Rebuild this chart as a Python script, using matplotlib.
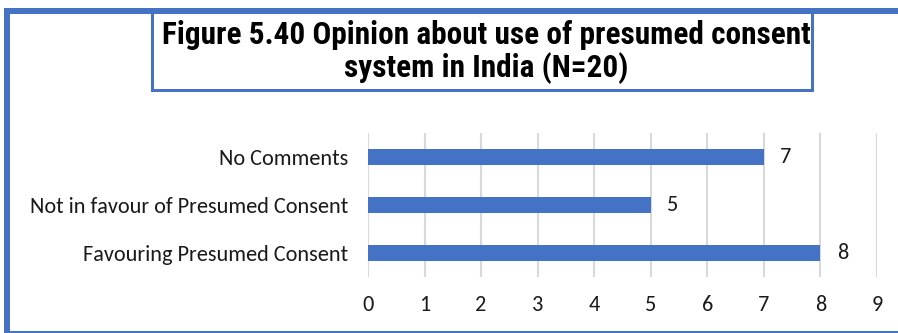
import matplotlib
matplotlib.use("Agg")
import matplotlib.pyplot as plt
from matplotlib.patches import Rectangle

categories = ["Favouring Presumed Consent", "Not in favour of Presumed Consent", "No Comments"]
values = [8, 5, 7]
x_ticks = [0, 1, 2, 3, 4, 5, 6, 7, 8, 9]
title = "Figure 5.40 Opinion about use of presumed consent\nsystem in India (N=20)"

BLUE = "#4472C4"
TEXT = "#1a1a1a"
W, H = 898, 333

title_font = ["Roboto Condensed", "Asap Condensed", "DejaVu Sans"]
body_font = ["Carlito", "Lato", "DejaVu Sans"]

fig = plt.figure(figsize=(W / 100, H / 100), dpi=100)

def px_rect(x0, y0, x1, y1, **kw):
    fig.patches.append(Rectangle((x0 / W, 1 - y1 / H), (x1 - x0) / W, (y1 - y0) / H,
                                 transform=fig.transFigure, figure=fig, **kw))

# outer frame (top, left, bottom)
px_rect(4, 8, W, 14, color=BLUE, lw=0)
px_rect(4, 8, 10, H, color=BLUE, lw=0)
px_rect(4, 331, W, 333, color=BLUE, lw=0)
# title box
px_rect(151, 8, 154, 92, color=BLUE, lw=0)
px_rect(811, 8, 814, 92, color=BLUE, lw=0)
px_rect(151, 89, 814, 92, color=BLUE, lw=0)

fig.text(486 / W, 1 - 52 / H, title, ha="center", va="center", fontsize=22.5,
         fontweight="bold", family=title_font, linespacing=1.12)

ax = fig.add_axes([368 / W, 1 - 277 / H, (877 - 368) / W, (277 - 133) / H])
ypos = list(range(len(categories)))
bars = ax.barh(ypos, values, height=0.34, color=BLUE, zorder=3)
ax.set_xlim(0, 9)
ax.set_ylim(-0.5, 2.5)
ax.set_xticks(x_ticks)
ax.set_xticklabels([str(t) for t in x_ticks], fontsize=16, family=body_font, color=TEXT)
ax.set_yticks(ypos)
ax.set_yticklabels(categories, fontsize=16, family=body_font, color=TEXT)
ax.tick_params(axis="both", length=0)
ax.tick_params(axis="x", pad=13)
ax.tick_params(axis="y", pad=14)
for s in ax.spines.values():
    s.set_visible(False)
ax.grid(axis="x", color="#d9d9d9", lw=1.5, zorder=0)
ax.set_axisbelow(True)

for b, v in zip(bars, values):
    ax.annotate(str(v), (v, b.get_y() + b.get_height() / 2), xytext=(16, 0),
                textcoords="offset points", ha="center", va="center",
                fontsize=16, family=body_font, color=TEXT)

fig.savefig("out.png", dpi=100)
